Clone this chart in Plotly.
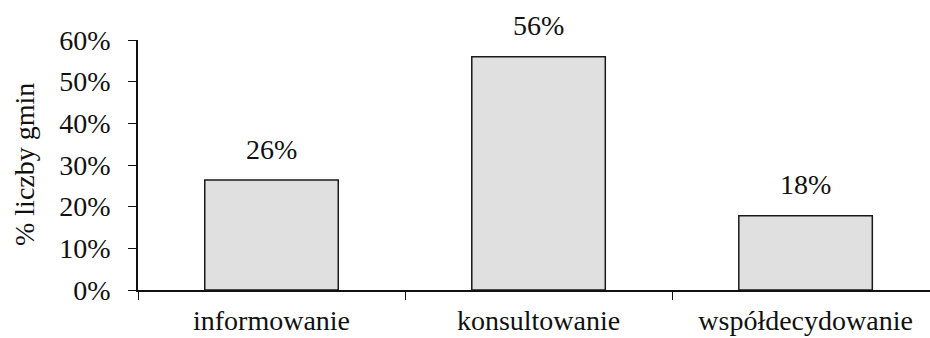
import plotly.graph_objects as go

categories = ["informowanie", "konsultowanie", "współdecydowanie"]
shares = [26.4, 56.0, 17.8]
y_ticks = [0, 10, 20, 30, 40, 50, 60]

FONT = "Liberation Serif, Times New Roman, serif"
INK = "#111"
FS = 28

fig = go.Figure()
fig.add_trace(go.Bar(
    x=categories,
    y=shares,
    width=0.5,
    marker=dict(color="#e0e0e0", line=dict(color="#1a1a1a", width=1.5)),
    hoverinfo="skip",
))

# value labels above each bar
for c, v in zip(categories, shares):
    fig.add_annotation(
        x=c, y=v, text=f"{v:.0f}%", showarrow=False,
        yanchor="middle", yshift=31,
        font=dict(family=FONT, size=FS, color=INK),
    )

# vertical axis title
fig.add_annotation(
    xref="paper", yref="paper", x=0, y=0.5, xshift=-114,
    text="% liczby gmin", textangle=-90, showarrow=False,
    xanchor="center", yanchor="middle",
    font=dict(family=FONT, size=28, color=INK),
)

fig.update_layout(
    width=930, height=338,
    margin=dict(l=138, r=0, t=40, b=48),
    paper_bgcolor="white", plot_bgcolor="white",
    showlegend=False,
    font=dict(family=FONT, size=FS, color=INK),
)
fig.update_xaxes(
    type="category",
    range=[-0.5, 2.466],
    tickson="boundaries",
    ticks="outside", ticklen=8, tickwidth=1, tickcolor=INK,
    showline=True, linecolor=INK, linewidth=1.5,
    showgrid=False, zeroline=False,
    tickfont=dict(family=FONT, size=FS, color=INK),
    ticklabelstandoff=5,
)
fig.update_yaxes(
    range=[0, 60],
    tickvals=y_ticks,
    ticktext=[f"{t}%" for t in y_ticks],
    ticks="outside", ticklen=8, tickwidth=1, tickcolor=INK,
    showline=True, linecolor=INK, linewidth=1.5,
    showgrid=False, zeroline=False,
    tickfont=dict(family=FONT, size=FS, color=INK),
    ticklabelstandoff=12,
)

fig.write_html("out.html")
